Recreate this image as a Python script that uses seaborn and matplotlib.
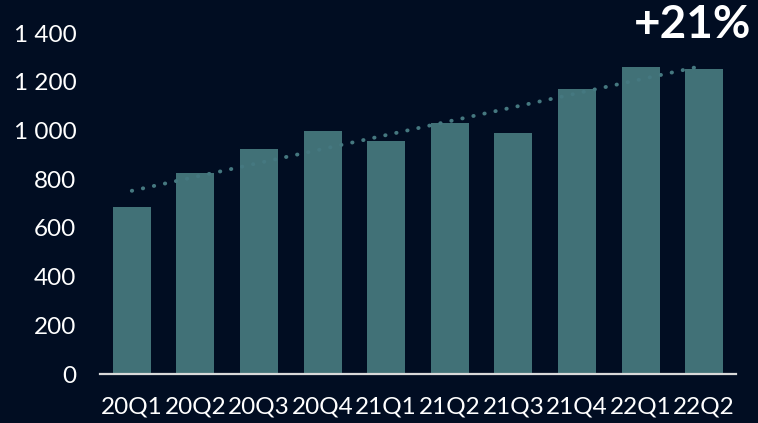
import numpy as np
import pandas as pd
import seaborn as sns
import matplotlib
matplotlib.use("Agg")
import matplotlib.pyplot as plt
from matplotlib.ticker import FuncFormatter

quarters = ["20Q1", "20Q2", "20Q3", "20Q4", "21Q1", "21Q2", "21Q3", "21Q4", "22Q1", "22Q2"]
values = [686, 825, 924, 998, 957, 1031, 990, 1170, 1261, 1253]
y_ticks = [0, 200, 400, 600, 800, 1000, 1200, 1400]
growth_label = "+21%"

BG = "#010d22"
BAR = "#417177"
LINE = "#457880"

sns.set_theme(style="white")
plt.rcParams["font.family"] = ["Lato", "DejaVu Sans"]

df = pd.DataFrame({"quarter": quarters, "value": values, "idx": np.arange(len(quarters))})

fig = plt.figure(figsize=(7.58, 4.23), dpi=100, facecolor=BG)
ax = fig.add_axes([100 / 758, (423 - 374) / 423, 636 / 758, (374 - 33) / 423])
ax.set_facecolor(BG)

sns.barplot(data=df, x="quarter", y="value", color=BAR, width=0.6, saturation=1,
            linewidth=0, edgecolor="none", ax=ax, zorder=2)
sns.regplot(data=df, x="idx", y="value", scatter=False, ci=None, ax=ax,
            line_kws=dict(color=LINE, lw=2.8, linestyle=(0, (0.1, 2.8)),
                          dash_capstyle="round", solid_capstyle="round", zorder=3))

ax.set_xlim(-0.5, len(quarters) - 0.5)
ax.set_ylim(0, 1400)
ax.set_yticks(y_ticks)
ax.yaxis.set_major_formatter(FuncFormatter(lambda v, p: f"{int(v):,}".replace(",", " ")))
ax.set_xlabel("")
ax.set_ylabel("")
for s in ["top", "right", "left"]:
    ax.spines[s].set_visible(False)
ax.spines["bottom"].set_color("#d9d9d9")
ax.spines["bottom"].set_linewidth(1.6)
ax.tick_params(axis="both", length=0, colors="white", labelsize=17.5)
ax.tick_params(axis="y", pad=17)
ax.tick_params(axis="x", pad=16)
ax.grid(False)

fig.text(751 / 758, 1 - 25 / 423, growth_label, color="white", fontsize=33,
         fontweight="bold", ha="right", va="center")

fig.savefig("out.png", dpi=100, facecolor=BG)
